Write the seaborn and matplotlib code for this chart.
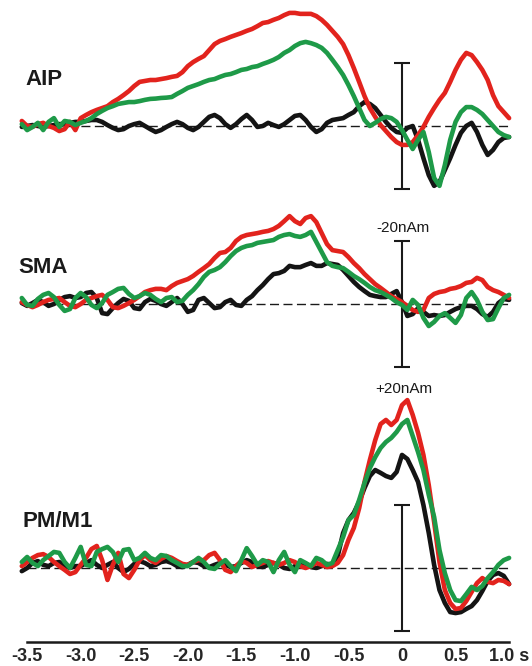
import numpy as np
import pandas as pd
import seaborn as sns
import matplotlib.pyplot as plt

# time axis (s), one sample every 50 ms
time_s = np.round(np.arange(-3.55, 1.0001, 0.05), 2)

conditions = ['black', 'red', 'green']
colors = {'black': '#141414', 'red': '#e2231d', 'green': '#1e9a48'}

# source waveforms in nAm (negative = upward, as in the scale bar)
aip_red = [
    -1.6, 0, 0.3, -0.6, -1.0, 0, 0.6, 1.6, 1.0, -1.3,
    1.3, -2.5, -3.5, -4.4, -5.1, -5.7, -6.3, -7.6, -8.6, -9.8,
    -11.1, -12.7, -14.0, -14.3, -14.6, -14.6, -14.9, -15.2, -15.6, -15.9,
    -17.1, -19.0, -20.3, -21.3, -22.2, -24.1, -26.0, -27.0, -27.6, -28.3,
    -28.9, -29.5, -30.2, -30.8, -31.7, -32.7, -33.0, -33.7, -34.3, -35.2,
    -35.9, -35.9, -35.6, -35.6, -35.6, -34.9, -33.7, -32.1, -30.2, -28.3,
    -26.0, -22.5, -18.4, -14.0, -9.5, -5.7, -2.9, -0.3, 1.6, 3.5,
    5.1, 6.0, 6.0, 5.1, 2.9, 0.3, -2.9, -5.7, -8.3, -10.5,
    -14.0, -17.8, -21.0, -23.2, -22.5, -20.3, -17.8, -14.6, -9.8, -6.3,
    -4.4, -2.5]
aip_green = [
    -0.6, 1.3, 0.3, -1.0, 1.3, -1.3, -2.5, 0.3, -1.6, -1.3,
    -0.3, -1.0, -1.6, -2.5, -3.8, -4.8, -5.7, -6.3, -7.0, -7.3,
    -7.6, -7.6, -7.9, -8.3, -8.6, -8.7, -8.9, -9.0, -9.2, -10.2,
    -11.1, -12.1, -12.7, -13.3, -14.0, -14.6, -14.9, -15.6, -16.2, -16.5,
    -17.1, -17.8, -18.1, -18.7, -19.0, -19.7, -20.3, -21.0, -21.9, -23.2,
    -24.1, -25.4, -26.3, -26.7, -26.3, -25.7, -24.8, -23.2, -21.0, -18.7,
    -16.2, -13.0, -9.5, -5.7, -1.9, 0, -1.0, -2.2, -2.9, -2.5,
    -1.3, 1.3, 4.4, 7.3, 4.4, 1.9, 8.3, 16.5, 19.0, 12.4,
    4.4, -1.3, -4.4, -6.0, -6.0, -5.1, -3.8, -1.9, 0, 1.9,
    2.9, 3.5]
aip_black = [
    0.3, 0, -0.3, 0, 0.3, 0, -0.3, -0.6, -0.6, -1.0,
    -1.3, -1.3, -1.6, -1.9, -1.9, -1.3, -0.3, 0.6, 1.3, 1.0,
    0, -0.6, -1.0, 0, 1.0, 1.9, 1.3, 0.3, -0.6, -1.3,
    -0.6, 0.6, 1.3, 0.3, -1.3, -2.9, -3.5, -2.5, -0.6, 0.6,
    -0.6, -2.2, -3.5, -1.9, 0.3, 0, -1.0, -0.3, 0.3, -0.6,
    -1.9, -3.2, -3.5, -1.9, 0.3, 1.9, 1.0, -1.0, -1.9, -2.2,
    -2.5, -3.5, -4.4, -6.3, -7.6, -7.0, -5.7, -3.5, -1.3, 0.6,
    1.9, 2.2, 0.6, 0, 4.4, 10.2, 15.6, 19.0, 17.8, 14.0,
    10.2, 6.0, 2.2, 0, -1.0, 1.9, 6.0, 9.2, 7.6, 5.1,
    3.8, 3.5]

sma_red = [
    -0.6, 0.3, 1.0, 0.3, -0.6, -1.3, -1.6, -1.9, -0.6, 0.6,
    1.0, 0, -1.3, -1.9, -2.5, -2.9, -1.3, 1.0, 1.3, 0.6,
    -0.3, -1.3, -2.5, -3.8, -4.4, -4.8, -4.8, -4.4, -5.7, -6.7,
    -7.3, -7.9, -8.9, -10.2, -11.4, -12.7, -14.6, -16.2, -16.5, -17.8,
    -20.0, -21.3, -21.9, -22.2, -22.5, -22.9, -23.2, -23.8, -24.8, -26.3,
    -27.9, -26.3, -25.4, -27.3, -27.9, -26.0, -22.5, -19.0, -17.1, -16.8,
    -16.5, -14.9, -13.0, -11.4, -9.5, -7.9, -6.3, -5.1, -3.8, -2.5,
    -1.6, -0.6, 0.6, 1.9, 2.5, 1.9, -1.9, -3.2, -3.8, -4.1,
    -4.8, -5.1, -5.7, -6.7, -7.0, -8.3, -7.6, -5.4, -4.4, -3.8,
    -2.9, -1.9]
sma_green = [
    -1.9, 0.3, 0.6, -1.6, -2.9, -3.5, -2.2, 0.3, 2.2, 1.6,
    -1.9, -3.5, -2.2, 0.3, 1.3, -0.3, -2.9, -3.8, -4.8, -5.1,
    -3.2, -1.9, -2.5, -3.5, -2.9, -1.6, -0.6, -1.9, -2.2, -0.6,
    -1.0, -2.9, -4.4, -6.3, -8.6, -10.2, -10.8, -11.7, -13.3, -15.2,
    -16.8, -17.8, -18.4, -18.7, -19.4, -19.7, -20.0, -20.3, -21.3, -21.9,
    -22.2, -21.6, -21.3, -21.9, -22.9, -19.7, -16.5, -13.3, -12.1, -11.7,
    -11.4, -10.2, -8.9, -7.9, -6.7, -5.4, -4.4, -3.8, -2.9, -1.9,
    -0.6, 0.3, 1.9, -1.3, 0.3, 4.4, 7.0, 5.7, 3.8, 2.9,
    4.4, 6.0, 3.5, -1.9, -3.8, -1.3, 2.5, 5.1, 4.8, 1.3,
    -1.9, -2.9]
sma_black = [
    -0.3, 0.6, -0.3, -1.3, -0.6, 0.6, 0, -1.3, -2.2, -2.5,
    -1.9, -2.2, -3.5, -3.8, -1.9, 2.9, 3.2, 1.3, -0.3, -1.6,
    -1.0, 1.3, 1.6, -0.6, -1.6, -1.0, 0, 0.6, -0.6, -1.9,
    0, 2.5, 1.9, -1.3, -1.9, -0.3, 1.3, 1.0, -0.6, -1.3,
    0.3, 0.6, -1.3, -2.5, -4.4, -6.0, -7.9, -9.5, -9.8, -10.5,
    -12.1, -11.7, -11.7, -12.4, -13.0, -12.1, -12.1, -13.0, -12.7, -12.4,
    -10.8, -8.9, -7.0, -5.4, -4.1, -2.9, -2.5, -2.2, -2.2, -3.2,
    -4.1, -0.6, 3.8, 3.2, 1.3, 2.5, 3.8, 3.5, 3.8, 3.5,
    2.5, 1.6, 1.0, 0.6, 0.6, 1.6, 3.2, 4.1, 2.5, -0.3,
    -1.6, -1.3]

pm_red = [
    -0.6, -1.9, -3.2, -4.1, -4.4, -3.5, -1.9, -0.6, 0.6, 1.9,
    1.3, -1.0, -3.2, -6.0, -7.0, -2.5, 3.8, -1.0, -4.8, 1.9,
    3.2, 0.6, -2.5, -4.1, -2.5, -1.6, -2.9, -3.8, -3.2, -2.2,
    -1.3, -1.0, -1.9, -2.5, -2.5, -4.1, -4.8, -2.5, 0.6, 1.3,
    -0.6, -2.2, -1.6, -0.3, -1.0, -1.6, -2.2, -1.6, -1.0, -1.6,
    -2.5, -1.9, -0.6, 0, -0.6, -1.6, -1.0, -0.3, -0.6, -1.6,
    -4.1, -8.9, -12.7, -19.0, -27.3, -34.3, -40.6, -45.7, -47.0, -45.4,
    -47.0, -51.7, -53.3, -48.6, -42.9, -35.9, -26.3, -14.6, -1.9, 7.0,
    11.1, 13.0, 12.7, 10.5, 7.6, 4.8, 3.2, 4.4, 4.8, 3.8,
    4.1, 5.1]
pm_green = [
    -1.9, -3.5, -1.6, -0.6, -2.5, -3.8, -5.1, -4.8, -1.9, 0,
    -3.2, -6.7, -1.0, -0.6, -5.1, -6.0, -6.7, -5.1, -1.9, -5.7,
    -6.0, -2.5, -3.2, -4.8, -3.2, -2.5, -4.1, -3.8, -2.5, -1.6,
    -0.6, -0.6, -1.9, -3.2, -1.9, 0, 0.3, -1.3, -2.5, -0.6,
    1.0, -2.5, -6.3, -3.8, -1.0, -2.5, -1.9, 1.3, -2.5, -5.1,
    -1.0, 1.3, -2.5, -1.6, -0.6, -3.2, -2.5, -1.0, -1.6, -5.7,
    -9.8, -15.2, -16.8, -21.6, -27.0, -31.7, -35.2, -38.1, -40.0, -41.3,
    -43.2, -45.7, -47.0, -41.9, -36.8, -31.1, -23.2, -16.2, -5.7, 1.6,
    7.0, 10.2, 10.5, 8.3, 6.0, 7.0, 5.7, 3.2, 1.3, -1.0,
    -2.5, -3.2]
pm_black = [
    1.0, 0, -1.6, -2.2, -1.0, -0.6, -1.6, -1.9, -0.6, 0,
    -0.6, -0.6, -1.6, -2.5, -1.0, 0, -1.0, -1.9, 0, 1.3,
    0.3, -1.3, -2.2, -1.6, -0.6, -1.0, -1.9, -2.2, -1.6, -0.6,
    -0.3, -1.0, -1.9, -1.6, -0.6, -0.3, -1.0, -1.6, -1.0, -0.3,
    -0.6, -1.6, -2.5, -1.9, -0.6, -0.3, -1.0, -1.6, -1.0, 0,
    0.3, -0.6, -1.6, -1.3, -0.3, 0, -0.6, -1.3, -1.0, -3.8,
    -11.1, -15.2, -17.5, -21.0, -25.4, -29.2, -31.1, -30.2, -29.2, -28.6,
    -30.5, -35.9, -34.6, -31.1, -27.3, -20.0, -11.1, -1.0, 7.0, 11.1,
    14.0, 14.3, 14.0, 13.0, 12.1, 10.2, 7.3, 4.1, 2.2, 1.6,
    2.5, 5.1]

x_ticks = [-3.5, -3.0, -2.5, -2.0, -1.5, -1.0, -0.5, 0, 0.5, 1.0]
x_ticklabels = ['-3.5', '-3.0', '-2.5', '-2.0', '-1.5', '-1.0', '-0.5', '0', '0.5', '1.0 s']
scale_nAm = 20

# layout in pixels of the 532x666 canvas
W, H = 532, 666
PX_PER_NAM = 3.15
X_LEFT_PX, X_RIGHT_PX = 12, 520
T0_PX, PX_PER_S = 402, 107.1
# name, data, top px, bottom px, baseline px, label left px, label baseline px
panels = [
    ('AIP', (aip_black, aip_red, aip_green), 0, 200, 126, 25, 85),
    ('SMA', (sma_black, sma_red, sma_green), 200, 380, 304, 18, 273),
    ('PM/M1', (pm_black, pm_red, pm_green), 380, 642, 568, 23, 527),
]


def make_frame(traces):
    return pd.DataFrame({
        'time': np.tile(time_s, len(conditions)),
        'nAm': np.concatenate([np.asarray(t, dtype=float) for t in traces]),
        'condition': np.repeat(conditions, len(time_s)),
    })


def draw_panel(fig, name, traces, top, bottom, base, lab_x, lab_y, last):
    ax = fig.add_axes([X_LEFT_PX / W, 1 - bottom / H,
                       (X_RIGHT_PX - X_LEFT_PX) / W, (bottom - top) / H])
    ax.set_xlim((X_LEFT_PX - T0_PX) / PX_PER_S, (X_RIGHT_PX - T0_PX) / PX_PER_S)
    # negative nAm drawn upward
    ax.set_ylim((bottom - base) / PX_PER_NAM, (top - base) / PX_PER_NAM)

    ax.hlines(0, -3.5, 1.0, colors='#1a1a1a', linestyles=(0, (6.5, 3.2)),
              lw=1.0, zorder=1)
    ax.errorbar([0], [0], yerr=scale_nAm, fmt='none', ecolor='#1a1a1a',
                elinewidth=1.5, capsize=5.5, capthick=1.5, zorder=1.5)

    sns.lineplot(data=make_frame(traces), x='time', y='nAm', hue='condition',
                 hue_order=conditions, palette=colors, linewidth=3.3,
                 estimator=None, sort=False, legend=False, ax=ax,
                 solid_capstyle='round', solid_joinstyle='round')

    ax.set_xlabel('')
    ax.set_ylabel('')
    ax.set_yticks([])
    for side in ['top', 'right', 'left']:
        ax.spines[side].set_visible(False)
    if last:
        ax.spines['bottom'].set_bounds(-3.5, 1.0)
        ax.spines['bottom'].set_linewidth(1.8)
        ax.spines['bottom'].set_color('#1a1a1a')
        ax.set_xticks(x_ticks, x_ticklabels)
        ax.tick_params(axis='x', direction='out', length=3, width=1.8,
                       color='#1a1a1a', pad=1.5, labelsize=13)
        for lab in ax.get_xticklabels():
            lab.set_fontfamily(['Liberation Sans Narrow', 'Liberation Sans', 'DejaVu Sans'])
            lab.set_fontweight('bold')
    else:
        ax.spines['bottom'].set_visible(False)
        ax.set_xticks([])
    ax.patch.set_alpha(0)

    fig.text(lab_x / W, 1 - lab_y / H, name, fontsize=16, fontweight='bold',
             ha='left', va='baseline', color='#1a1a1a')
    return ax


def main():
    sns.set_style('white')
    plt.rcParams['font.family'] = ['Liberation Sans', 'DejaVu Sans']
    fig = plt.figure(figsize=(W / 100, H / 100), dpi=100)

    for i, (name, traces, top, bottom, base, lx, ly) in enumerate(panels):
        draw_panel(fig, name, traces, top, bottom, base, lx, ly, i == len(panels) - 1)

    fig.text(403 / W, 1 - 232 / H, f'-{scale_nAm}nAm', fontsize=11,
             ha='center', va='baseline', color='#1a1a1a')
    fig.text(404 / W, 1 - 393 / H, f'+{scale_nAm}nAm', fontsize=11,
             ha='center', va='baseline', color='#1a1a1a')

    fig.savefig('out.png', dpi=100)
    plt.close(fig)


if __name__ == '__main__':
    main()
